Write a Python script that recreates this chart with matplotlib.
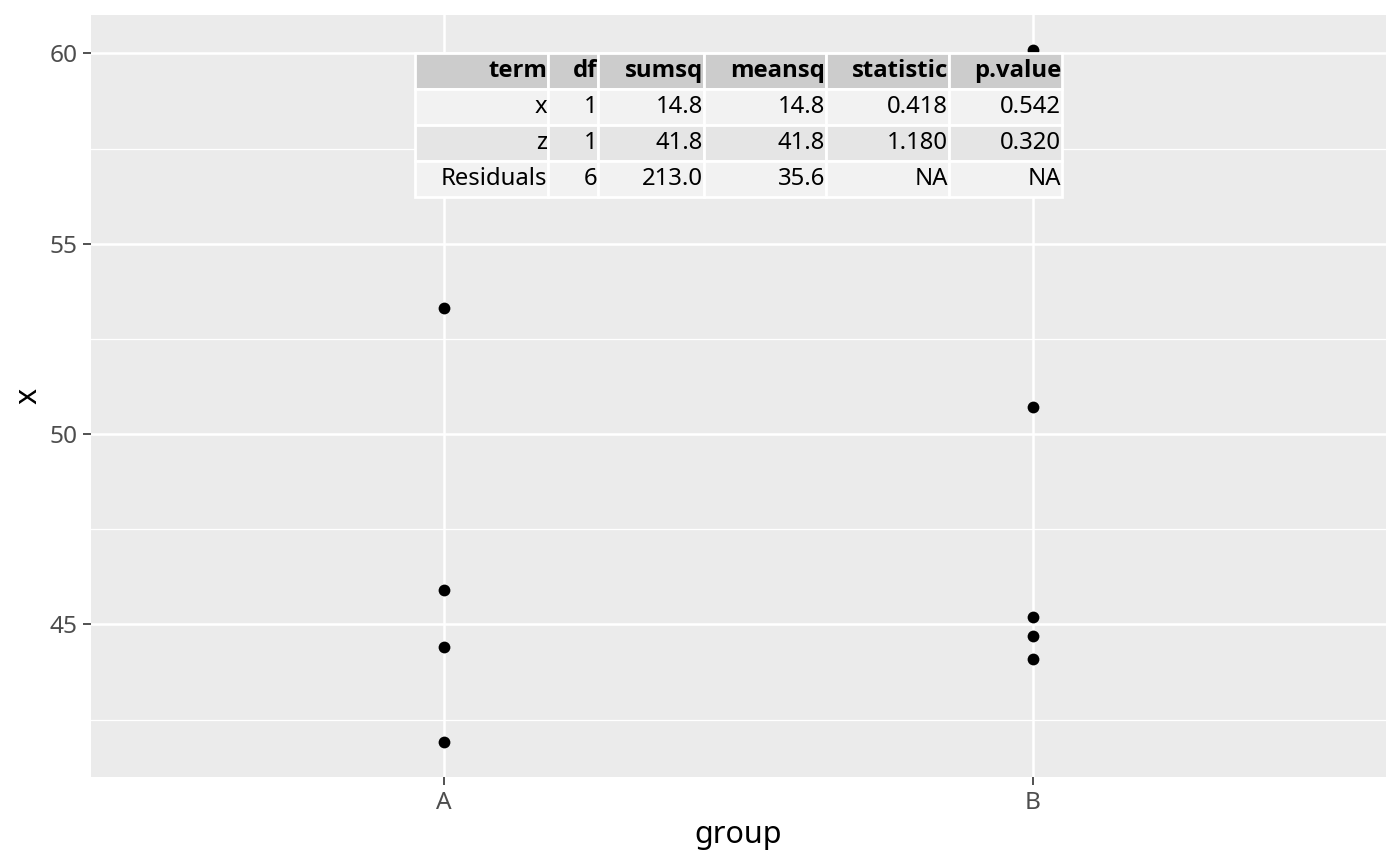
import matplotlib
matplotlib.use("Agg")
import matplotlib.pyplot as plt
import numpy as np

plt.rcParams['font.family'] = ['Noto Sans', 'DejaVu Sans']

# points
group = ["A", "A", "A", "A", "B", "B", "B", "B", "B"]
x_val = [53.3, 45.9, 44.4, 41.9, 60.1, 50.7, 45.2, 44.7, 44.1]
levels = ["A", "B"]

# anova table
col_labels = ["term", "df", "sumsq", "meansq", "statistic", "p.value"]
term = ["x", "z", "Residuals"]
df = ["1", "1", "6"]
sumsq = ["14.8", "41.8", "213.0"]
meansq = ["14.8", "41.8", "35.6"]
statistic = ["0.418", "1.180", "NA"]
p_value = ["0.542", "0.320", "NA"]

yticks = [45, 50, 55, 60]
yminor = [42.5, 47.5, 52.5, 57.5]

fig = plt.figure(figsize=(7, 4.33), dpi=200)
ax = fig.add_axes([91 / 1400, 1 - 777 / 866, 1295 / 1400, 762 / 866])
ax.set_facecolor("#EBEBEB")
for s in ax.spines.values():
    s.set_visible(False)

pos = [levels.index(g) for g in group]
ax.scatter(pos, x_val, s=18, color="black", zorder=3, linewidths=0)

ax.set_xlim(-0.6, 1.6)
lo, hi = min(x_val), max(x_val)
pad = (hi - lo) * 0.05
ax.set_ylim(lo - pad, hi + pad)
ax.set_xticks(range(len(levels)))
ax.set_xticklabels(levels)
ax.set_yticks(yticks)
ax.set_yticks(yminor, minor=True)
ax.grid(which="major", color="white", lw=0.9)
ax.grid(which="minor", axis="y", color="white", lw=0.45)
ax.set_axisbelow(True)
ax.tick_params(which="major", length=2.75, width=0.6, color="#333333",
               labelcolor="#4D4D4D", labelsize=8.8, pad=2.2)
ax.tick_params(which="minor", length=0)
ax.set_xlabel("group", fontsize=11, labelpad=2)
ax.set_ylabel("x", fontsize=11, labelpad=2)

cells = [list(r) for r in zip(term, df, sumsq, meansq, statistic, p_value)]
widths = np.array([133, 50, 106, 122, 123, 113], dtype=float)
tab = ax.table(cellText=cells, colLabels=col_labels, cellLoc="right",
               colLoc="right", colWidths=list(widths / widths.sum()),
               bbox=[0.2502, 0.7612, 0.4996, 0.1889])
tab.auto_set_font_size(False)
tab.set_fontsize(8.6)
tab.set_zorder(5)
row_colors = ["#F2F2F2", "#E5E5E5", "#F2F2F2"]
for (r, c), cell in tab.get_celld().items():
    cell.set_edgecolor("white")
    cell.set_linewidth(1.0)
    cell.PAD = 0.008
    txt = cell.get_text()
    if r == 0:
        cell.set_facecolor("#CCCCCC")
        txt.set_fontfamily(["Open Sans", "DejaVu Sans"])
        txt.set_fontweight("bold")
    else:
        cell.set_facecolor(row_colors[r - 1])
    txt.set_color("black")

fig.savefig("out.png", dpi=200)
